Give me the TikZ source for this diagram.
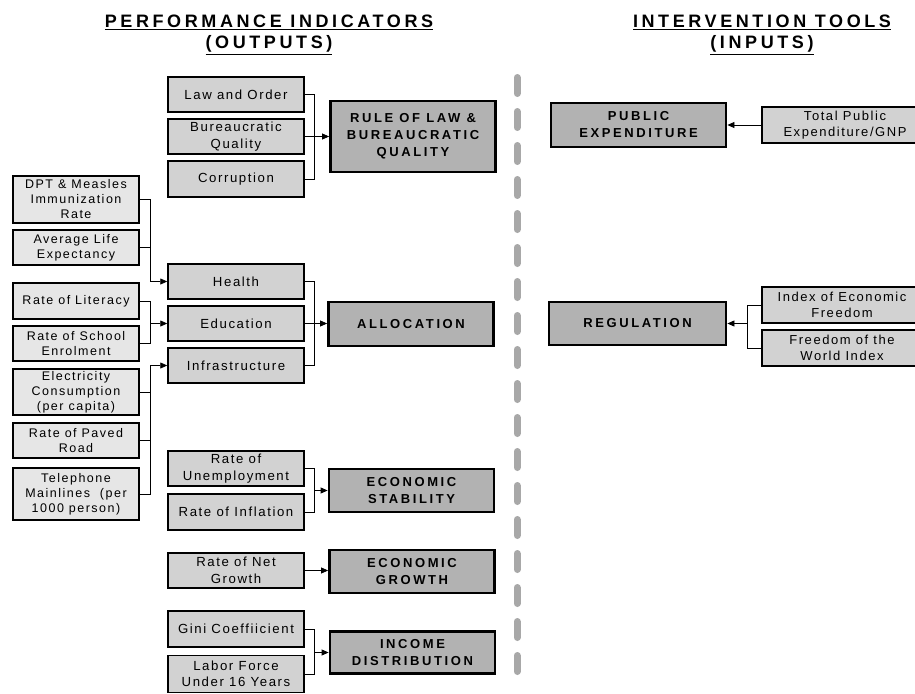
\documentclass[tikz,border=0pt]{standalone}
\usepackage{fontspec}
\setmainfont{Liberation Sans}
\newfontfamily\regf[LetterSpace=12]{Liberation Sans}
\newfontfamily\bldf[LetterSpace=20]{Liberation Sans}
\usetikzlibrary{arrows.meta}
\definecolor{cLeaf}{HTML}{E6E6E6}
\definecolor{cMid}{HTML}{D2D2D2}
\definecolor{cMain}{HTML}{B2B2B2}
\definecolor{cDash}{HTML}{A8A8A8}
\tikzset{
  leafbox/.style={draw, line width=1.1pt, fill=cLeaf, minimum width=126pt, inner sep=0pt, align=center,
     font=\regf\fontsize{12.5}{15}\selectfont},
  midbox/.style={draw, line width=1.5pt, fill=cMid, minimum width=136pt, minimum height=35pt, inner sep=0pt, align=center,
     font=\regf\fontsize{13.2}{16.5}\selectfont},
  mainbox/.style={draw, line width=2.8pt, fill=cMain, minimum width=165pt, inner sep=0pt, align=center,
     font=\bldf\bfseries\fontsize{13}{17}\selectfont},
  inbox/.style={draw, line width=1.3pt, fill=cMid, minimum width=160pt, minimum height=36pt, inner sep=0pt, align=center,
     font=\regf\fontsize{13}{16.5}\selectfont},
  headtxt/.style={align=center, font=\bldf\bfseries\fontsize{18}{21}\selectfont},
  ln/.style={line width=0.8pt},
  arr/.style={line width=0.8pt, -{Triangle[length=7pt,width=6pt]}}
}
\begin{document}
\begin{tikzpicture}[x=1pt,y=-1pt]
\useasboundingbox (0,0) rectangle (915,693);
% headers
\node[headtxt] (h1) at (269,35) {\underline{PERFORMANCE INDICATORS}\\\underline{(OUTPUTS)}};
\node[headtxt] (h2) at (762,35) {\underline{INTERVENTION TOOLS}\\\underline{(INPUTS)}};
% divider
\draw[cDash, line width=7pt, line cap=round, dash pattern=on 16pt off 18pt] (517,77.5) -- (517,672);
% left leaves
\node[leafbox, minimum height=47pt] (dpt) at (76,199.5) {DPT \& Measles\\Immunization\\Rate};
\node[leafbox, minimum height=35pt] (life) at (76,247.5) {Average Life\\Expectancy};
\node[leafbox, minimum height=36pt] (lit) at (76,301) {Rate of Literacy};
\node[leafbox, minimum height=35pt] (school) at (76,343.5) {Rate of School\\Enrolment};
\node[leafbox, minimum height=46pt] (elec) at (76,392) {Electricity\\Consumption\\(per capita)};
\node[leafbox, minimum height=35pt] (paved) at (76,440.5) {Rate of Paved\\Road};
\node[leafbox, minimum height=52pt] (tel) at (76,494) {Telephone\\Mainlines~ (per\\1000 person)};
% middle
\node[midbox] (law) at (236,94.5) {Law and Order};
\node[midbox] (bur) at (236,136.5) {Bureaucratic\\Quality};
\node[midbox, minimum height=36pt] (cor) at (236,179) {Corruption};
\node[midbox] (health) at (236,281.5) {Health};
\node[midbox] (edu) at (236,323.5) {Education};
\node[midbox] (infra) at (236,365.5) {Infrastructure};
\node[midbox] (unemp) at (236,468.5) {Rate of\\Unemployment};
\node[midbox, minimum height=36pt] (infl) at (236,512) {Rate of Inflation};
\node[midbox] (net) at (236,570.5) {Rate of Net\\Growth};
\node[midbox, minimum height=36pt] (gini) at (236,629) {Gini Coeffiicient};
\node[midbox, minimum height=37pt] (labor) at (236,674) {Labor Force\\Under 16 Years};
% main outputs
\node[mainbox, minimum height=71pt] (rol) at (413,136.5) {RULE OF LAW \&\\BUREAUCRATIC\\QUALITY};
\node[mainbox, minimum height=44pt] (alloc) at (411,324) {ALLOCATION};
\node[mainbox, minimum height=43pt] (estab) at (411.5,490.5) {ECONOMIC\\STABILITY};
\node[mainbox, minimum height=43pt] (egrow) at (412,571.5) {ECONOMIC\\GROWTH};
\node[mainbox, minimum height=42pt] (income) at (412.5,652.5) {INCOME\\DISTRIBUTION};
% inputs
\node[mainbox, minimum width=175pt, minimum height=44pt] (pubexp) at (638.5,125) {PUBLIC\\EXPENDITURE};
\node[mainbox, minimum width=177pt, minimum height=43pt] (reg) at (637.5,323.5) {REGULATION};
\node[inbox, minimum width=166pt] (tpe) at (845,125) {Total Public\\Expenditure/GNP};
\node[inbox, minimum width=160pt] (ief) at (842,305) {Index of Economic\\Freedom};
\node[inbox, minimum width=160pt] (fwi) at (842,348) {Freedom of the\\World Index};
% junction x positions
\coordinate (j1) at (150,0);
\coordinate (j2) at (314,0);
\coordinate (j3) at (747,0);
% health group
\draw[ln] (dpt.east) -| (j1 |- health.west);
\draw[ln] (life.east) -- (j1 |- life.east);
\draw[arr] (j1 |- health.west) -- (health.west);
% education group
\draw[ln] (lit.east) -| (j1 |- school.east) -- (school.east);
\draw[arr] (j1 |- edu.west) -- (edu.west);
% infrastructure group
\draw[ln] (tel.east) -| (j1 |- infra.west);
\draw[ln] (elec.east) -- (j1 |- elec.east);
\draw[ln] (paved.east) -- (j1 |- paved.east);
\draw[arr] (j1 |- infra.west) -- (infra.west);
% rule of law
\draw[ln] (law.east) -| (j2 |- cor.east) -- (cor.east);
\draw[arr] (bur.east) -- (rol.west |- bur.east);
% allocation
\draw[ln] (health.east) -| (j2 |- infra.east) -- (infra.east);
\draw[arr] (edu.east) -- (alloc.west |- edu.east);
% stability
\draw[ln] (unemp.east) -| (j2 |- infl.east) -- (infl.east);
\draw[arr] (j2 |- estab.west) -- (estab.west);
% growth
\draw[arr] (net.east) -- (egrow.west |- net.east);
% income
\draw[ln] (gini.east) -| (j2 |- labor.east) -- (labor.east);
\draw[arr] (j2 |- income.west) -- (income.west);
% inputs
\draw[arr] (tpe.west) -- (pubexp.east);
\draw[ln] (ief.west) -| (j3 |- fwi.west) -- (fwi.west);
\draw[arr] (j3 |- reg.east) -- (reg.east);
\end{tikzpicture}
\end{document}
